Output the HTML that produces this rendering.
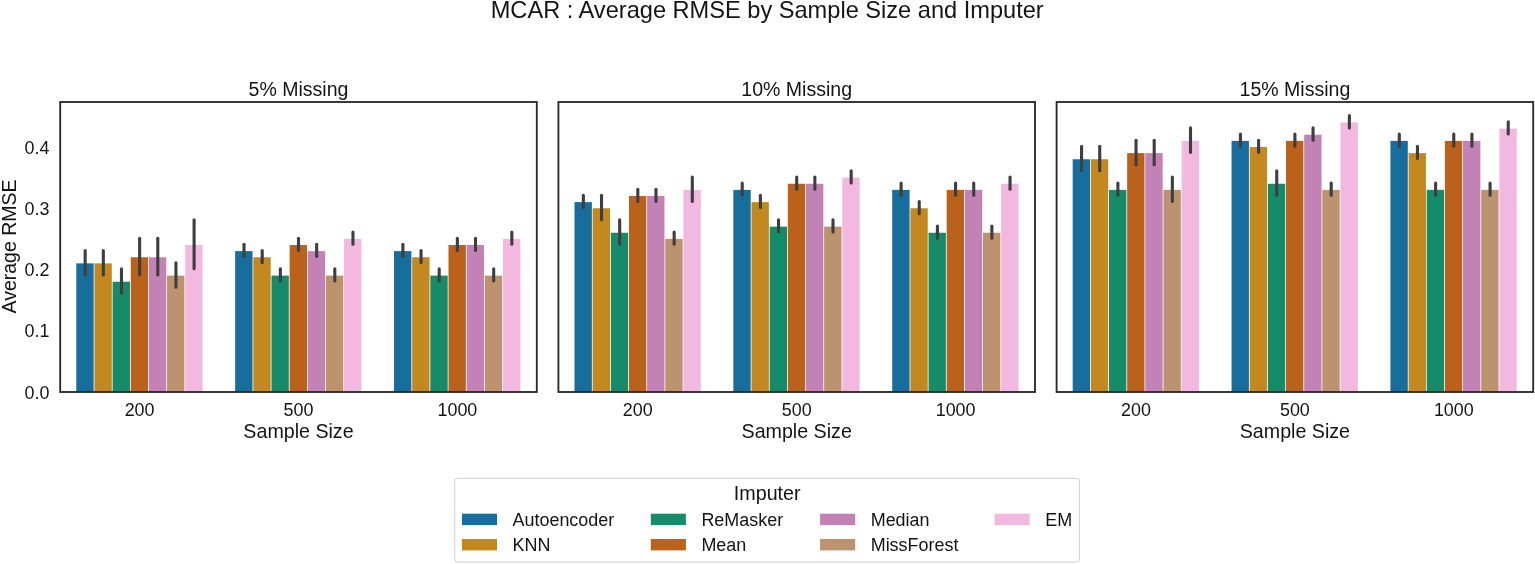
<!DOCTYPE html>
<html lang="en"><head><meta charset="utf-8"><title>MCAR : Average RMSE by Sample Size and Imputer</title>
<style>html,body{margin:0;padding:0;background:#fff;overflow:hidden}svg{display:block}text{font-family:"Liberation Sans", Arial, Helvetica, sans-serif;fill:#141414}</style>
</head><body>
<svg width="1535" height="564" viewBox="0 0 1535 564">
<rect width="1535" height="564" fill="#ffffff"/>
<text x="767.2" y="18.45" font-size="23.6" text-anchor="middle">MCAR : Average RMSE by Sample Size and Imputer</text>
<text transform="translate(16.2 246.5) rotate(-90)" font-size="19.5" text-anchor="middle">Average RMSE</text>
<text x="49.4" y="398.6" font-size="17.9" text-anchor="end">0.0</text>
<text x="49.4" y="337.4" font-size="17.9" text-anchor="end">0.1</text>
<text x="49.4" y="276.1" font-size="17.9" text-anchor="end">0.2</text>
<text x="49.4" y="214.8" font-size="17.9" text-anchor="end">0.3</text>
<text x="49.4" y="153.6" font-size="17.9" text-anchor="end">0.4</text>
<g>
<text x="298.5" y="95.5" font-size="19.55" text-anchor="middle">5% Missing</text>
<rect x="76.29" y="263.38" width="17.36" height="128.62" fill="#176d9c"/>
<rect x="94.44" y="263.38" width="17.36" height="128.62" fill="#c38820"/>
<rect x="112.60" y="281.75" width="17.36" height="110.25" fill="#158b6a"/>
<rect x="130.76" y="257.25" width="17.36" height="134.75" fill="#ba611b"/>
<rect x="148.91" y="257.25" width="17.36" height="134.75" fill="#c282b5"/>
<rect x="167.07" y="275.62" width="17.36" height="116.38" fill="#bd926e"/>
<rect x="185.22" y="245.00" width="17.36" height="147.00" fill="#f2b8e0"/>
<line x1="85.16" x2="85.16" y1="250.43" y2="274.93" stroke="#3e3e3e" stroke-width="3.1" stroke-linecap="round"/>
<line x1="103.32" x2="103.32" y1="250.43" y2="274.93" stroke="#3e3e3e" stroke-width="3.1" stroke-linecap="round"/>
<line x1="121.48" x2="121.48" y1="268.80" y2="293.30" stroke="#3e3e3e" stroke-width="3.1" stroke-linecap="round"/>
<line x1="139.63" x2="139.63" y1="238.18" y2="274.93" stroke="#3e3e3e" stroke-width="3.1" stroke-linecap="round"/>
<line x1="157.79" x2="157.79" y1="238.18" y2="274.93" stroke="#3e3e3e" stroke-width="3.1" stroke-linecap="round"/>
<line x1="175.95" x2="175.95" y1="262.68" y2="287.18" stroke="#3e3e3e" stroke-width="3.1" stroke-linecap="round"/>
<line x1="194.10" x2="194.10" y1="219.80" y2="268.80" stroke="#3e3e3e" stroke-width="3.1" stroke-linecap="round"/>
<text x="139.6" y="415.7" font-size="17.9" text-anchor="middle">200</text>
<rect x="235.15" y="251.12" width="17.36" height="140.88" fill="#176d9c"/>
<rect x="253.31" y="257.25" width="17.36" height="134.75" fill="#c38820"/>
<rect x="271.47" y="275.62" width="17.36" height="116.38" fill="#158b6a"/>
<rect x="289.62" y="245.00" width="17.36" height="147.00" fill="#ba611b"/>
<rect x="307.78" y="251.12" width="17.36" height="140.88" fill="#c282b5"/>
<rect x="325.93" y="275.62" width="17.36" height="116.38" fill="#bd926e"/>
<rect x="344.09" y="238.88" width="17.36" height="153.12" fill="#f2b8e0"/>
<line x1="244.03" x2="244.03" y1="244.30" y2="256.55" stroke="#3e3e3e" stroke-width="3.1" stroke-linecap="round"/>
<line x1="262.19" x2="262.19" y1="250.43" y2="262.68" stroke="#3e3e3e" stroke-width="3.1" stroke-linecap="round"/>
<line x1="280.34" x2="280.34" y1="268.80" y2="281.05" stroke="#3e3e3e" stroke-width="3.1" stroke-linecap="round"/>
<line x1="298.50" x2="298.50" y1="238.18" y2="250.43" stroke="#3e3e3e" stroke-width="3.1" stroke-linecap="round"/>
<line x1="316.66" x2="316.66" y1="244.30" y2="256.55" stroke="#3e3e3e" stroke-width="3.1" stroke-linecap="round"/>
<line x1="334.81" x2="334.81" y1="268.80" y2="281.05" stroke="#3e3e3e" stroke-width="3.1" stroke-linecap="round"/>
<line x1="352.97" x2="352.97" y1="232.05" y2="244.30" stroke="#3e3e3e" stroke-width="3.1" stroke-linecap="round"/>
<text x="298.5" y="415.7" font-size="17.9" text-anchor="middle">500</text>
<rect x="394.02" y="251.12" width="17.36" height="140.88" fill="#176d9c"/>
<rect x="412.18" y="257.25" width="17.36" height="134.75" fill="#c38820"/>
<rect x="430.33" y="275.62" width="17.36" height="116.38" fill="#158b6a"/>
<rect x="448.49" y="245.00" width="17.36" height="147.00" fill="#ba611b"/>
<rect x="466.64" y="245.00" width="17.36" height="147.00" fill="#c282b5"/>
<rect x="484.80" y="275.62" width="17.36" height="116.38" fill="#bd926e"/>
<rect x="502.96" y="238.88" width="17.36" height="153.12" fill="#f2b8e0"/>
<line x1="402.90" x2="402.90" y1="244.30" y2="256.55" stroke="#3e3e3e" stroke-width="3.1" stroke-linecap="round"/>
<line x1="421.05" x2="421.05" y1="250.43" y2="262.68" stroke="#3e3e3e" stroke-width="3.1" stroke-linecap="round"/>
<line x1="439.21" x2="439.21" y1="268.80" y2="281.05" stroke="#3e3e3e" stroke-width="3.1" stroke-linecap="round"/>
<line x1="457.37" x2="457.37" y1="238.18" y2="250.43" stroke="#3e3e3e" stroke-width="3.1" stroke-linecap="round"/>
<line x1="475.52" x2="475.52" y1="238.18" y2="250.43" stroke="#3e3e3e" stroke-width="3.1" stroke-linecap="round"/>
<line x1="493.68" x2="493.68" y1="268.80" y2="281.05" stroke="#3e3e3e" stroke-width="3.1" stroke-linecap="round"/>
<line x1="511.84" x2="511.84" y1="232.05" y2="244.30" stroke="#3e3e3e" stroke-width="3.1" stroke-linecap="round"/>
<text x="457.4" y="415.7" font-size="17.9" text-anchor="middle">1000</text>
<rect x="60.20" y="102.00" width="476.60" height="290.00" fill="none" stroke="#2a2a2a" stroke-width="1.85"/>
<text x="298.5" y="438.3" font-size="19.65" text-anchor="middle">Sample Size</text>
</g>
<g>
<text x="796.7" y="95.5" font-size="19.55" text-anchor="middle">10% Missing</text>
<rect x="574.49" y="202.12" width="17.36" height="189.88" fill="#176d9c"/>
<rect x="592.64" y="208.25" width="17.36" height="183.75" fill="#c38820"/>
<rect x="610.80" y="232.75" width="17.36" height="159.25" fill="#158b6a"/>
<rect x="628.96" y="196.00" width="17.36" height="196.00" fill="#ba611b"/>
<rect x="647.11" y="196.00" width="17.36" height="196.00" fill="#c282b5"/>
<rect x="665.27" y="238.88" width="17.36" height="153.12" fill="#bd926e"/>
<rect x="683.42" y="189.88" width="17.36" height="202.12" fill="#f2b8e0"/>
<line x1="583.36" x2="583.36" y1="195.30" y2="207.55" stroke="#3e3e3e" stroke-width="3.1" stroke-linecap="round"/>
<line x1="601.52" x2="601.52" y1="195.30" y2="219.80" stroke="#3e3e3e" stroke-width="3.1" stroke-linecap="round"/>
<line x1="619.68" x2="619.68" y1="219.80" y2="244.30" stroke="#3e3e3e" stroke-width="3.1" stroke-linecap="round"/>
<line x1="637.83" x2="637.83" y1="189.18" y2="201.43" stroke="#3e3e3e" stroke-width="3.1" stroke-linecap="round"/>
<line x1="655.99" x2="655.99" y1="189.18" y2="201.43" stroke="#3e3e3e" stroke-width="3.1" stroke-linecap="round"/>
<line x1="674.15" x2="674.15" y1="232.05" y2="244.30" stroke="#3e3e3e" stroke-width="3.1" stroke-linecap="round"/>
<line x1="692.30" x2="692.30" y1="176.93" y2="201.43" stroke="#3e3e3e" stroke-width="3.1" stroke-linecap="round"/>
<text x="637.8" y="415.7" font-size="17.9" text-anchor="middle">200</text>
<rect x="733.35" y="189.88" width="17.36" height="202.12" fill="#176d9c"/>
<rect x="751.51" y="202.12" width="17.36" height="189.88" fill="#c38820"/>
<rect x="769.67" y="226.62" width="17.36" height="165.38" fill="#158b6a"/>
<rect x="787.82" y="183.75" width="17.36" height="208.25" fill="#ba611b"/>
<rect x="805.98" y="183.75" width="17.36" height="208.25" fill="#c282b5"/>
<rect x="824.13" y="226.62" width="17.36" height="165.38" fill="#bd926e"/>
<rect x="842.29" y="177.62" width="17.36" height="214.38" fill="#f2b8e0"/>
<line x1="742.23" x2="742.23" y1="183.05" y2="195.30" stroke="#3e3e3e" stroke-width="3.1" stroke-linecap="round"/>
<line x1="760.39" x2="760.39" y1="195.30" y2="207.55" stroke="#3e3e3e" stroke-width="3.1" stroke-linecap="round"/>
<line x1="778.54" x2="778.54" y1="219.80" y2="232.05" stroke="#3e3e3e" stroke-width="3.1" stroke-linecap="round"/>
<line x1="796.70" x2="796.70" y1="176.93" y2="189.18" stroke="#3e3e3e" stroke-width="3.1" stroke-linecap="round"/>
<line x1="814.86" x2="814.86" y1="176.93" y2="189.18" stroke="#3e3e3e" stroke-width="3.1" stroke-linecap="round"/>
<line x1="833.01" x2="833.01" y1="219.80" y2="232.05" stroke="#3e3e3e" stroke-width="3.1" stroke-linecap="round"/>
<line x1="851.17" x2="851.17" y1="170.80" y2="183.05" stroke="#3e3e3e" stroke-width="3.1" stroke-linecap="round"/>
<text x="796.7" y="415.7" font-size="17.9" text-anchor="middle">500</text>
<rect x="892.22" y="189.88" width="17.36" height="202.12" fill="#176d9c"/>
<rect x="910.38" y="208.25" width="17.36" height="183.75" fill="#c38820"/>
<rect x="928.53" y="232.75" width="17.36" height="159.25" fill="#158b6a"/>
<rect x="946.69" y="189.88" width="17.36" height="202.12" fill="#ba611b"/>
<rect x="964.84" y="189.88" width="17.36" height="202.12" fill="#c282b5"/>
<rect x="983.00" y="232.75" width="17.36" height="159.25" fill="#bd926e"/>
<rect x="1001.16" y="183.75" width="17.36" height="208.25" fill="#f2b8e0"/>
<line x1="901.10" x2="901.10" y1="183.05" y2="195.30" stroke="#3e3e3e" stroke-width="3.1" stroke-linecap="round"/>
<line x1="919.25" x2="919.25" y1="201.43" y2="213.68" stroke="#3e3e3e" stroke-width="3.1" stroke-linecap="round"/>
<line x1="937.41" x2="937.41" y1="225.93" y2="238.18" stroke="#3e3e3e" stroke-width="3.1" stroke-linecap="round"/>
<line x1="955.57" x2="955.57" y1="183.05" y2="195.30" stroke="#3e3e3e" stroke-width="3.1" stroke-linecap="round"/>
<line x1="973.72" x2="973.72" y1="183.05" y2="195.30" stroke="#3e3e3e" stroke-width="3.1" stroke-linecap="round"/>
<line x1="991.88" x2="991.88" y1="225.93" y2="238.18" stroke="#3e3e3e" stroke-width="3.1" stroke-linecap="round"/>
<line x1="1010.04" x2="1010.04" y1="176.93" y2="189.18" stroke="#3e3e3e" stroke-width="3.1" stroke-linecap="round"/>
<text x="955.6" y="415.7" font-size="17.9" text-anchor="middle">1000</text>
<rect x="558.40" y="102.00" width="476.60" height="290.00" fill="none" stroke="#2a2a2a" stroke-width="1.85"/>
<text x="796.7" y="438.3" font-size="19.65" text-anchor="middle">Sample Size</text>
</g>
<g>
<text x="1294.9" y="95.5" font-size="19.55" text-anchor="middle">15% Missing</text>
<rect x="1072.69" y="159.25" width="17.36" height="232.75" fill="#176d9c"/>
<rect x="1090.84" y="159.25" width="17.36" height="232.75" fill="#c38820"/>
<rect x="1109.00" y="189.88" width="17.36" height="202.12" fill="#158b6a"/>
<rect x="1127.16" y="153.12" width="17.36" height="238.88" fill="#ba611b"/>
<rect x="1145.31" y="153.12" width="17.36" height="238.88" fill="#c282b5"/>
<rect x="1163.47" y="189.88" width="17.36" height="202.12" fill="#bd926e"/>
<rect x="1181.62" y="140.88" width="17.36" height="251.12" fill="#f2b8e0"/>
<line x1="1081.56" x2="1081.56" y1="146.30" y2="170.80" stroke="#3e3e3e" stroke-width="3.1" stroke-linecap="round"/>
<line x1="1099.72" x2="1099.72" y1="146.30" y2="170.80" stroke="#3e3e3e" stroke-width="3.1" stroke-linecap="round"/>
<line x1="1117.88" x2="1117.88" y1="183.05" y2="195.30" stroke="#3e3e3e" stroke-width="3.1" stroke-linecap="round"/>
<line x1="1136.03" x2="1136.03" y1="140.18" y2="164.68" stroke="#3e3e3e" stroke-width="3.1" stroke-linecap="round"/>
<line x1="1154.19" x2="1154.19" y1="140.18" y2="164.68" stroke="#3e3e3e" stroke-width="3.1" stroke-linecap="round"/>
<line x1="1172.35" x2="1172.35" y1="176.93" y2="201.43" stroke="#3e3e3e" stroke-width="3.1" stroke-linecap="round"/>
<line x1="1190.50" x2="1190.50" y1="127.92" y2="152.43" stroke="#3e3e3e" stroke-width="3.1" stroke-linecap="round"/>
<text x="1136.0" y="415.7" font-size="17.9" text-anchor="middle">200</text>
<rect x="1231.55" y="140.88" width="17.36" height="251.12" fill="#176d9c"/>
<rect x="1249.71" y="147.00" width="17.36" height="245.00" fill="#c38820"/>
<rect x="1267.87" y="183.75" width="17.36" height="208.25" fill="#158b6a"/>
<rect x="1286.02" y="140.88" width="17.36" height="251.12" fill="#ba611b"/>
<rect x="1304.18" y="134.75" width="17.36" height="257.25" fill="#c282b5"/>
<rect x="1322.33" y="189.88" width="17.36" height="202.12" fill="#bd926e"/>
<rect x="1340.49" y="122.50" width="17.36" height="269.50" fill="#f2b8e0"/>
<line x1="1240.43" x2="1240.43" y1="134.05" y2="146.30" stroke="#3e3e3e" stroke-width="3.1" stroke-linecap="round"/>
<line x1="1258.59" x2="1258.59" y1="140.18" y2="152.43" stroke="#3e3e3e" stroke-width="3.1" stroke-linecap="round"/>
<line x1="1276.74" x2="1276.74" y1="170.80" y2="195.30" stroke="#3e3e3e" stroke-width="3.1" stroke-linecap="round"/>
<line x1="1294.90" x2="1294.90" y1="134.05" y2="146.30" stroke="#3e3e3e" stroke-width="3.1" stroke-linecap="round"/>
<line x1="1313.06" x2="1313.06" y1="127.92" y2="140.18" stroke="#3e3e3e" stroke-width="3.1" stroke-linecap="round"/>
<line x1="1331.21" x2="1331.21" y1="183.05" y2="195.30" stroke="#3e3e3e" stroke-width="3.1" stroke-linecap="round"/>
<line x1="1349.37" x2="1349.37" y1="115.67" y2="127.92" stroke="#3e3e3e" stroke-width="3.1" stroke-linecap="round"/>
<text x="1294.9" y="415.7" font-size="17.9" text-anchor="middle">500</text>
<rect x="1390.42" y="140.88" width="17.36" height="251.12" fill="#176d9c"/>
<rect x="1408.58" y="153.12" width="17.36" height="238.88" fill="#c38820"/>
<rect x="1426.73" y="189.88" width="17.36" height="202.12" fill="#158b6a"/>
<rect x="1444.89" y="140.88" width="17.36" height="251.12" fill="#ba611b"/>
<rect x="1463.04" y="140.88" width="17.36" height="251.12" fill="#c282b5"/>
<rect x="1481.20" y="189.88" width="17.36" height="202.12" fill="#bd926e"/>
<rect x="1499.36" y="128.62" width="17.36" height="263.38" fill="#f2b8e0"/>
<line x1="1399.30" x2="1399.30" y1="134.05" y2="146.30" stroke="#3e3e3e" stroke-width="3.1" stroke-linecap="round"/>
<line x1="1417.45" x2="1417.45" y1="146.30" y2="158.55" stroke="#3e3e3e" stroke-width="3.1" stroke-linecap="round"/>
<line x1="1435.61" x2="1435.61" y1="183.05" y2="195.30" stroke="#3e3e3e" stroke-width="3.1" stroke-linecap="round"/>
<line x1="1453.77" x2="1453.77" y1="134.05" y2="146.30" stroke="#3e3e3e" stroke-width="3.1" stroke-linecap="round"/>
<line x1="1471.92" x2="1471.92" y1="134.05" y2="146.30" stroke="#3e3e3e" stroke-width="3.1" stroke-linecap="round"/>
<line x1="1490.08" x2="1490.08" y1="183.05" y2="195.30" stroke="#3e3e3e" stroke-width="3.1" stroke-linecap="round"/>
<line x1="1508.24" x2="1508.24" y1="121.80" y2="134.05" stroke="#3e3e3e" stroke-width="3.1" stroke-linecap="round"/>
<text x="1453.8" y="415.7" font-size="17.9" text-anchor="middle">1000</text>
<rect x="1056.60" y="102.00" width="476.60" height="290.00" fill="none" stroke="#2a2a2a" stroke-width="1.85"/>
<text x="1294.9" y="438.3" font-size="19.65" text-anchor="middle">Sample Size</text>
</g>
<rect x="454.7" y="478.3" width="624.7" height="83.8" rx="3" ry="3" fill="#ffffff" stroke="#cfcfcf" stroke-width="1"/>
<text x="767.2" y="500.1" font-size="19.7" text-anchor="middle">Imputer</text>
<rect x="461.9" y="513.7" width="35.1" height="11.4" fill="#176d9c"/>
<text x="512.5" y="525.7" font-size="17.95">Autoencoder</text>
<rect x="461.9" y="539.0" width="35.1" height="11.4" fill="#c38820"/>
<text x="512.5" y="551.0" font-size="17.95">KNN</text>
<rect x="650.8" y="513.7" width="35.1" height="11.4" fill="#158b6a"/>
<text x="701.4" y="525.7" font-size="17.95">ReMasker</text>
<rect x="650.8" y="539.0" width="35.1" height="11.4" fill="#ba611b"/>
<text x="701.4" y="551.0" font-size="17.95">Mean</text>
<rect x="820.1" y="513.7" width="35.1" height="11.4" fill="#c282b5"/>
<text x="870.7" y="525.7" font-size="17.95">Median</text>
<rect x="820.1" y="539.0" width="35.1" height="11.4" fill="#bd926e"/>
<text x="870.7" y="551.0" font-size="17.95">MissForest</text>
<rect x="994.6" y="513.7" width="35.1" height="11.4" fill="#f2b8e0"/>
<text x="1045.2" y="525.7" font-size="17.95">EM</text>
</svg>
</body></html>
